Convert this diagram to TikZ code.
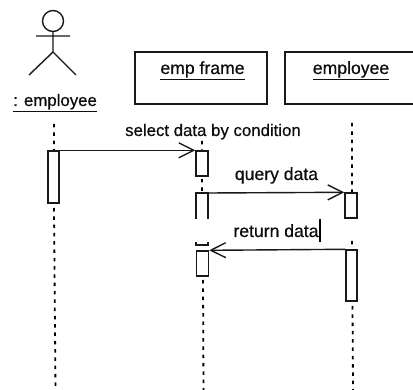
\documentclass[tikz,border=0pt]{standalone}
\usepackage{fontspec}
\usetikzlibrary{arrows.meta}
\setmainfont{Liberation Sans}[FakeBold=0.6]
\begin{document}
\begin{tikzpicture}[x=1pt,y=-1pt,
  ink/.style={draw=black!90,line width=1.4pt},
  objbox/.style={ink,fill=white,rectangle,minimum height=52pt,inner sep=0pt},
  actbox/.style={ink,fill=white,rectangle,inner sep=0pt},
  lifeline/.style={draw=black,line width=1.8pt,dash pattern=on 3.5pt off 4.8pt},
  msg/.style={ink,-{Straight Barb[length=15pt,width=15pt,line width=1.4pt]}},
  lab/.style={inner sep=0pt,font=\fontsize{16.8pt}{18pt}\selectfont,text=black!95,anchor=base},
  widelab/.style={lab,font=\fontsize{17.6pt}{19pt}\selectfont}]
\useasboundingbox (0,0) rectangle (413,390);
% actor
\node[ink,circle,minimum size=21pt,inner sep=0pt] (head) at (53,21) {};
\coordinate (armL) at (36,36); \coordinate (armR) at (70,36);
\coordinate (hip) at (53,52); \coordinate (legL) at (29,75); \coordinate (legR) at (76,75);
\draw[ink] (head.south) -- (hip) (armL) -- (armR) (legL) -- (hip) -- (legR);
\node[lab] (actname) at (55,106) {\underline{: employee}};
% objects
\node[objbox,minimum width=132pt] (frame) at (201,78) {};
\node[widelab] (framename) at (202.5,74) {\underline{emp frame}};
\draw[ink] (415,52) -- (285,52) -- (285,104) -- (415,104);
\node[widelab] (empname) at (351,74) {\underline{employee}};
% lifeline ends
\coordinate (a0) at (54,124); \coordinate (a1) at (54,151);
\coordinate (a2) at (54,208); \coordinate (a3) at (55.5,390);
\coordinate (b0) at (202,141); \coordinate (b1) at (202,151);
\coordinate (b2) at (202,179); \coordinate (b3) at (202,193);
\coordinate (b4) at (203,280); \coordinate (b5) at (203.5,390);
\coordinate (c0) at (352,123); \coordinate (c1) at (352,193);
\coordinate (c2) at (352,241); \coordinate (c3) at (352,245);
\coordinate (c4) at (352.5,306); \coordinate (c5) at (353,390);
\draw[lifeline] (a0) -- (a1) (a2) -- (a3);
\draw[lifeline] (b0) -- (b1) (b2) -- (b3) (b4) -- (b5);
\draw[lifeline] (c0) -- (c1) (c2) -- (c3) (c4) -- (c5);
% activations
\node[actbox,minimum width=11pt,minimum height=52pt] (A) at (53.5,177) {};
\node[actbox,minimum width=12pt,minimum height=25pt] (B1) at (202,163.5) {};
\node[actbox,minimum width=12pt,minimum height=25pt] (C1) at (351,205.5) {};
\node[actbox,minimum width=12pt,minimum height=25pt] (B3) at (202.5,263.5) {};
\node[actbox,minimum width=11pt,minimum height=51pt] (C2) at (351.5,275.5) {};
% broken activation
\coordinate (d1) at (196,219); \coordinate (d2) at (196,193);
\coordinate (d3) at (208,193); \coordinate (d4) at (208,219);
\coordinate (e1) at (196,242); \coordinate (e2) at (196,245);
\coordinate (e3) at (208,245); \coordinate (e4) at (208,242);
\draw[ink] (d1) -- (d2) -- (d3) -- (d4);
\draw[ink] (e1) -- (e2) -- (e3) -- (e4);
% messages
\draw[msg] (A.north east) -- (B1.north west);
\draw[msg] (d3) -- (C1.north west);
\draw[msg] (C2.north west) -- (B3.north east);
% labels
\node[lab] (m1) at (213,136) {select data by condition};
\node[widelab] (m2) at (276.5,180) {query data};
\node[widelab] (m3) at (276,237) {return data};
\coordinate (cur1) at (320,219); \coordinate (cur2) at (320,242);
\draw[draw=black,line width=1.2pt] (cur1) -- (cur2);
\end{tikzpicture}
\end{document}
